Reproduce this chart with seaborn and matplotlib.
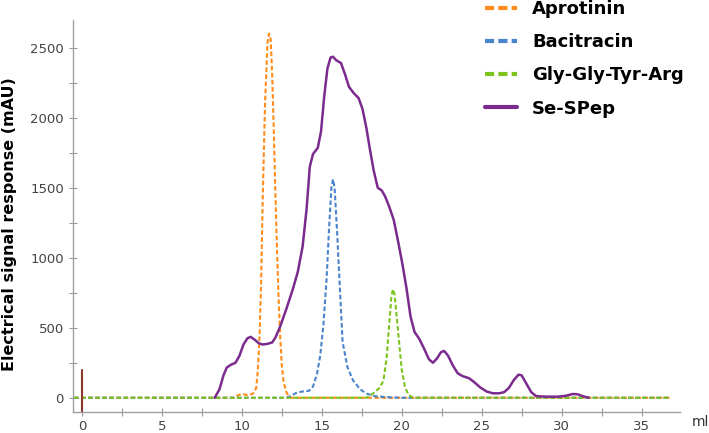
import matplotlib
matplotlib.use("Agg")
import matplotlib.pyplot as plt
from matplotlib.lines import Line2D
from matplotlib.ticker import MultipleLocator
import seaborn as sns

# elution volume (ml) / signal (mAU)
aprotinin_x = [-0.5, 9.5, 9.8, 10.1, 10.4, 10.7, 10.9, 11.0, 11.1, 11.2, 11.3, 11.45, 11.6, 11.7,
               11.8, 11.9, 12.0, 12.1, 12.2, 12.3, 12.4, 12.5, 12.6, 12.75, 12.9, 13.1, 36.8]
aprotinin_y = [0, 0, 20, 25, 18, 30, 70, 200, 420, 800, 1400, 2100, 2530, 2600,
               2560, 2300, 1900, 1450, 1050, 700, 430, 230, 120, 50, 15, 0, 0]

bacitracin_x = [-0.5, 12.8, 13.1, 13.4, 13.8, 14.2, 14.45, 14.7, 14.9, 15.1, 15.3, 15.45, 15.6, 15.7,
                15.8, 15.95, 16.1, 16.3, 16.6, 16.95, 17.4, 17.8, 18.3, 19.0, 20.0, 36.8]
bacitracin_y = [0, 0, 15, 35, 45, 50, 80, 170, 300, 520, 850, 1200, 1500, 1560,
                1500, 1200, 850, 400, 220, 125, 60, 30, 12, 5, 0, 0]

ggya_x = [-0.5, 17.8, 18.2, 18.6, 18.85, 19.05, 19.2, 19.35, 19.45, 19.55, 19.7, 19.85, 20.0,
          20.2, 20.4, 20.7, 36.8]
ggya_y = [0, 0, 30, 70, 120, 280, 500, 720, 775, 740, 560, 380, 200, 80, 25, 0, 0]

sespep_x = [8.3, 8.6, 8.85, 9.05, 9.3, 9.6, 9.85, 10.1, 10.35, 10.55, 10.8, 11.05, 11.3, 11.6,
            11.9, 12.1, 12.4, 12.8, 13.2, 13.5, 13.8, 14.05, 14.25, 14.45, 14.75, 14.95, 15.15,
            15.35, 15.55, 15.7, 15.9, 16.2, 16.45, 16.7, 17.0, 17.3, 17.55, 17.8, 18.0, 18.25,
            18.5, 18.75, 18.95, 19.2, 19.5, 19.8, 20.05, 20.3, 20.55, 20.8, 21.1, 21.4, 21.7,
            21.95, 22.2, 22.45, 22.65, 22.9, 23.2, 23.5, 23.8, 24.2, 24.5, 24.9, 25.3, 25.7,
            26.1, 26.4, 26.7, 27.0, 27.3, 27.5, 27.8, 28.1, 28.4, 29.0, 29.8, 30.3, 30.7, 31.0,
            31.3, 31.7]
sespep_y = [0, 60, 160, 215, 235, 250, 300, 380, 425, 435, 415, 390, 380, 385,
            395, 430, 510, 640, 780, 900, 1080, 1350, 1650, 1740, 1785, 1900, 2150,
            2350, 2430, 2435, 2410, 2390, 2310, 2220, 2175, 2140, 2060, 1920, 1780, 1620,
            1500, 1480, 1440, 1370, 1270, 1100, 950, 780, 580, 470, 420, 350, 275,
            250, 280, 325, 335, 300, 230, 175, 155, 140, 115, 75, 45, 32,
            32, 40, 70, 125, 165, 160, 100, 40, 12, 8, 8, 15, 27, 25,
            12, 0]

labels = ["Aprotinin", "Bacitracin", "Gly-Gly-Tyr-Arg", "Se-SPep"]
colors = ["#FF8C1A", "#4A84CC", "#7DC31E", "#7B2B8E"]

sns.set_style("white")
plt.rcParams["font.family"] = ["DejaVu Sans"]

fig = plt.figure(figsize=(7.09, 4.33), dpi=100)
ax = fig.add_axes([0.103, 0.049, 0.856, 0.905])

series = [(aprotinin_x, aprotinin_y), (bacitracin_x, bacitracin_y), (ggya_x, ggya_y)]
for (xs, ys), c in zip(series, colors[:3]):
    sns.lineplot(x=xs, y=ys, ax=ax, color=c, linewidth=1.5)
    ax.lines[-1].set_linestyle((0, (2.2, 1.2)))
sns.lineplot(x=sespep_x, y=sespep_y, ax=ax, color=colors[3], linewidth=1.8)

# injection marker
ax.plot([0, 0], [-100, 200], color="#8B3A2A", linewidth=1.5)

ax.set_xlim(-0.56, 37.4)
ax.set_ylim(-100, 2698)
ax.xaxis.set_major_locator(MultipleLocator(5))
ax.xaxis.set_minor_locator(MultipleLocator(2.5))
ax.yaxis.set_major_locator(MultipleLocator(500))
ax.yaxis.set_minor_locator(MultipleLocator(250))
ax.tick_params(which="both", direction="inout", length=6, width=0.8, color="#999999",
               labelsize=9.5, labelcolor="#444444", bottom=True, left=True)
ax.tick_params(axis="x", pad=3)
for side in ["top", "right"]:
    ax.spines[side].set_visible(False)
for side in ["left", "bottom"]:
    ax.spines[side].set_color("#a0a0a0")
    ax.spines[side].set_linewidth(1.0)

ax.set_xlabel("")
ax.set_ylabel("Electrical signal response (mAU)", fontsize=11.5, fontweight="bold", color="black")
ax.yaxis.set_label_coords(-0.093, 0.48)

fig.text(700 / 709, 1 - 422 / 433, "ml", ha="center", va="center", fontsize=10, color="#333333")

handles = [Line2D([], [], color=c, linewidth=3, linestyle=(0, (2.2, 1.0))) for c in colors[:3]]
handles.append(Line2D([], [], color=colors[3], linewidth=3))
fig.legend(handles, labels, loc="upper left", bbox_to_anchor=(485 / 709, 1.0),
           frameon=False, borderpad=0, borderaxespad=0, handlelength=1.78,
           handletextpad=0.83, labelspacing=0.84, labelcolor="black",
           prop={"weight": "bold", "size": 13})

fig.savefig("out.png", dpi=100)
